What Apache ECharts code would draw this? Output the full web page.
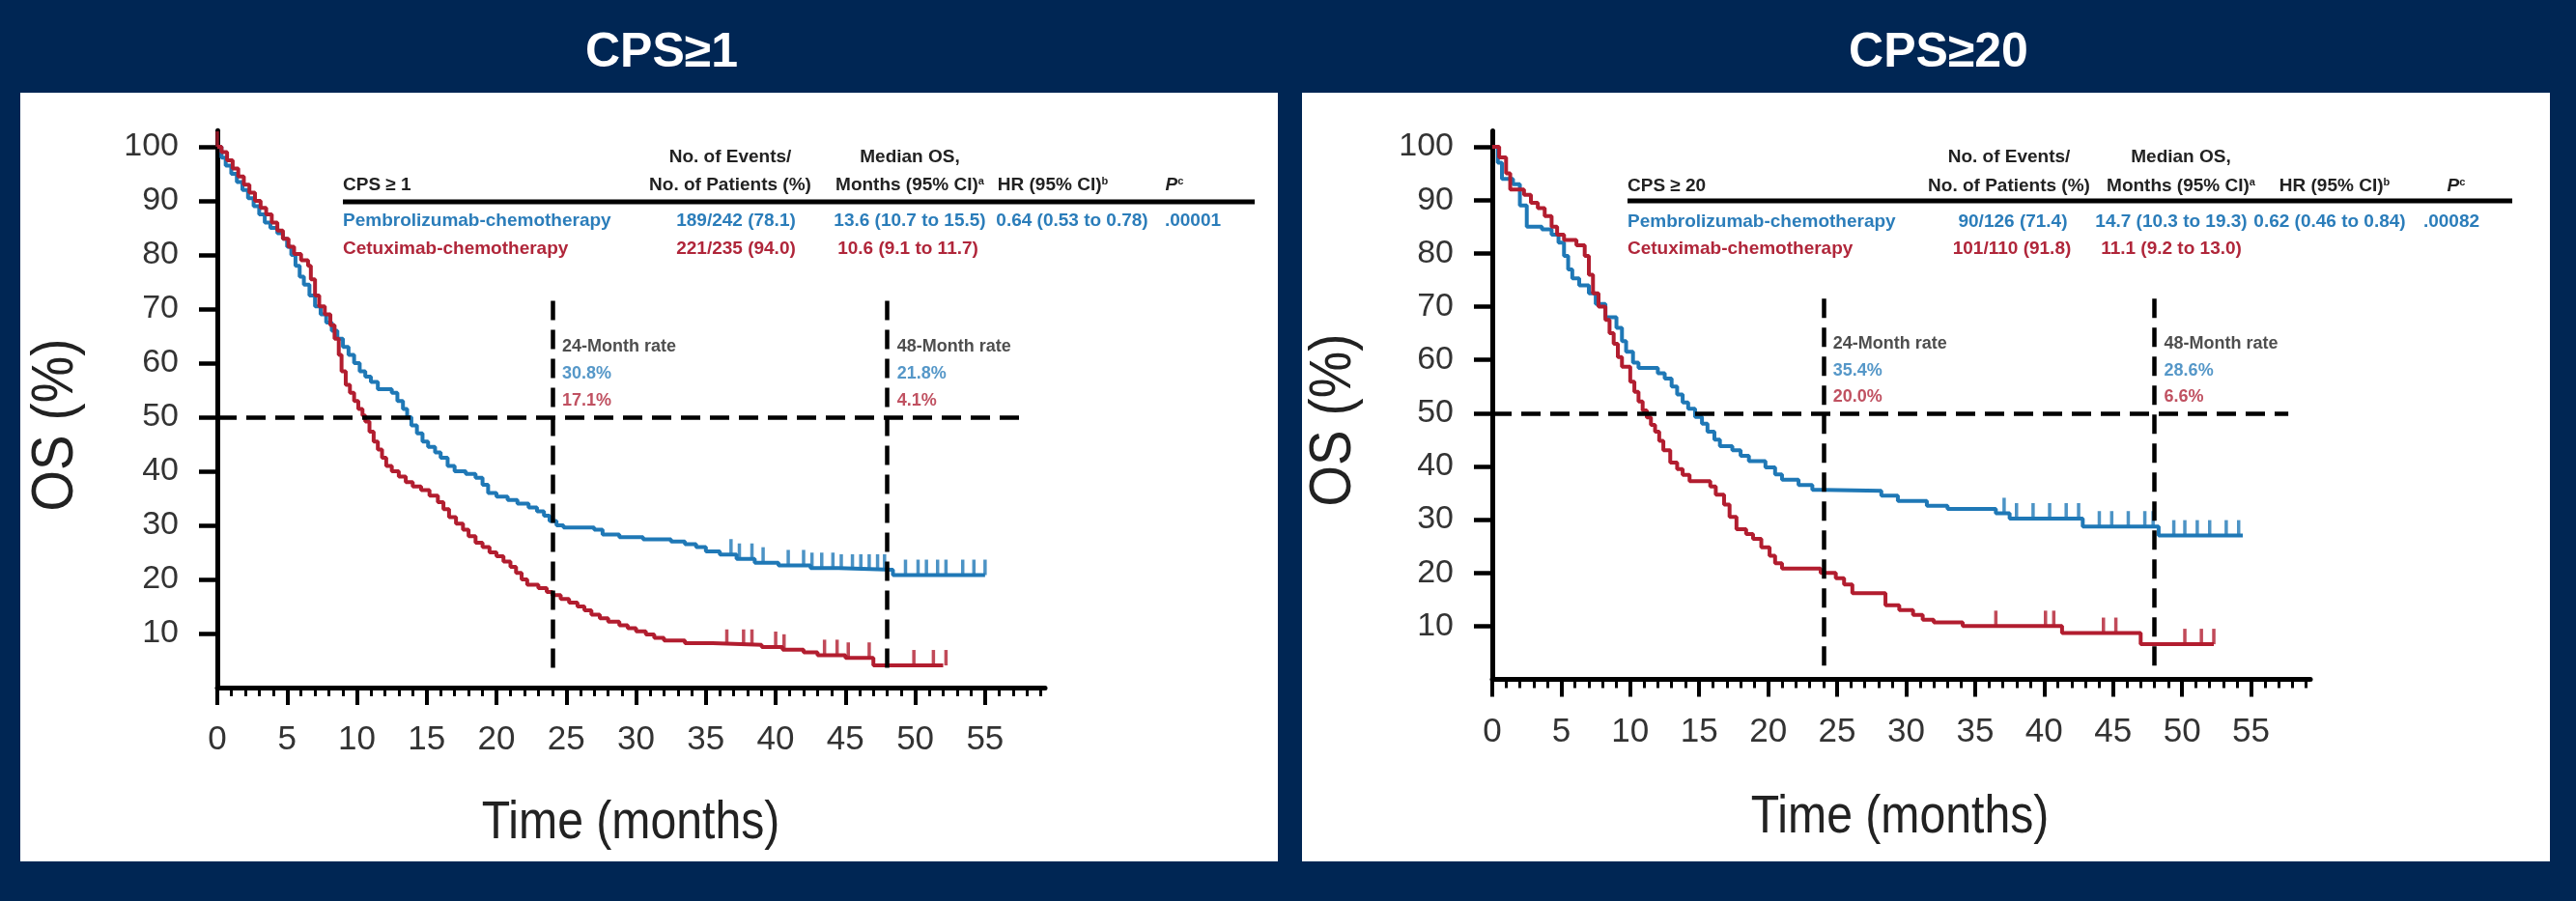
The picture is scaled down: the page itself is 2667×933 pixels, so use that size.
<!DOCTYPE html>
<html><head><meta charset="utf-8">
<script src="https://cdn.jsdelivr.net/npm/echarts@6/dist/echarts.min.js"></script>
<style>html,body{margin:0;padding:0;background:#002654;}#c{width:2667px;height:933px;}</style>
</head><body><div id="c"></div>
<script>
// ---------- DATA ----------
const timeTicks = [0,5,10,15,20,25,30,35,40,45,50,55];
const osTicks = [10,20,30,40,50,60,70,80,90,100];
const landmarkMonths = [24,48];

const pembroCps1 = [[0,100],[0.3,98],[0.6,96.5],[1,95],[1.4,93.5],[1.8,92],[2.2,90.5],[2.6,89],[3,87.5],[3.4,86],[3.8,85],[4.3,84],[4.7,83],[5,81.5],[5.3,80],[5.6,78],[5.9,76],[6.2,74.5],[6.6,72.5],[7,70.5],[7.4,69],[7.8,67.5],[8.2,66],[8.6,64.5],[9,63],[9.4,61.5],[9.8,60],[10.2,58.5],[10.6,57.5],[11,56.5],[11.5,55.2],[12.5,54.5],[12.9,53],[13.3,51.5],[13.6,50],[13.9,48.5],[14.3,47],[14.7,45.5],[15.1,44.5],[15.6,43.5],[16,42.5],[16.5,41],[17,40],[17.8,39.5],[18.5,38.8],[19,37.5],[19.4,36],[20,35.3],[20.8,34.7],[21.5,34],[22.3,33.3],[22.9,32.6],[23.4,31.8],[23.8,30.8],[24.3,30],[24.8,29.6],[27,29.2],[27.6,28.3],[28.8,27.8],[30.5,27.4],[32.5,27],[33.5,26.5],[34.3,26],[35,25.2],[36,24.6],[37.2,23.8],[38.5,23.1],[40.2,22.6],[42.5,22.1],[44.5,21.8],[48.4,20.8],[55,20.8]];
const cetuxCps1 = [[0,100],[0.3,99],[0.7,97.5],[1.1,96],[1.5,94.5],[1.9,93],[2.3,91.5],[2.7,90],[3.1,88.7],[3.5,87.5],[3.9,86],[4.3,84.5],[4.7,83],[5.1,81.5],[5.5,80.2],[6,79],[6.5,78],[6.7,75.5],[7,72.5],[7.3,70.5],[7.7,69],[8.1,67],[8.4,64.5],[8.7,61.5],[8.9,58.5],[9.2,56],[9.5,54.5],[9.8,53],[10.1,51.5],[10.4,50.3],[10.6,49.2],[10.9,47.3],[11.2,45.5],[11.5,44],[11.8,42.5],[12.1,41],[12.5,40],[13,39],[13.5,38],[14,37.2],[14.6,36.5],[15.2,35.5],[15.8,34.3],[16.2,33],[16.6,31.5],[17.1,30.3],[17.6,29.2],[18,28],[18.5,26.8],[19,26],[19.5,25],[20,24.3],[20.5,23.3],[21,22.3],[21.4,21.2],[21.8,20],[22.2,19],[23,18.4],[23.6,17.7],[24,17.1],[24.6,16.4],[25.2,15.7],[25.8,15],[26.3,14.3],[26.8,13.5],[27.4,12.8],[28,12.2],[28.8,11.5],[29.4,11],[30,10.4],[30.7,9.8],[31.3,9.2],[32,8.7],[33.5,8.2],[35.5,7.9],[39,7.5],[40.5,7],[42,6.5],[43,6],[45,5.5],[47,4.1],[52,4.1]];
const pembroCps1Censor = [36.8,37.4,38.3,39.1,40.9,42.0,42.6,43.3,44.1,44.7,45.5,46.1,46.7,47.3,47.8,49.3,50.2,50.8,51.6,52.2,53.4,54.2,55];
const cetuxCps1Censor = [0,36.5,37.7,38.3,40,40.6,43.5,44.4,45.2,46.7,49.9,51.3,52.2];

const pembroCps20 = [[0,100],[0.4,97],[0.7,94],[1.5,93],[2,89],[2.5,85],[3.6,84.5],[4.3,83.5],[4.8,82],[5.2,79.5],[5.5,77],[5.8,75.3],[6.3,74],[7,72.5],[7.5,70.5],[8.2,68],[9,66],[9.4,63.5],[9.7,61.5],[10.2,59.5],[10.6,58.5],[12,57.5],[12.5,56.5],[13,55],[13.4,53.5],[13.8,52],[14.2,50.8],[14.7,49.3],[15.2,48],[15.6,46.5],[16.1,45],[16.5,43.8],[17.4,43],[18,42],[18.6,41],[19.8,39.8],[20.5,38.5],[21,37.5],[22.2,36.5],[23.2,35.6],[24,35.4],[28.2,34.5],[29.4,33.5],[31.5,32.6],[33,32],[36.5,31.2],[37.5,30.2],[42.8,28.7],[48.3,27.0],[54.4,27.0]];
const cetuxCps20 = [[0,100],[0.5,98],[1,95],[1.3,92],[2.3,91],[2.8,89.5],[3.3,88.5],[3.8,87],[4.3,85],[4.7,83.5],[5.2,82.5],[6.1,81.5],[6.7,79.5],[7,76],[7.3,72.5],[7.7,70],[8.2,67.5],[8.5,65],[8.8,63],[9.1,60.5],[9.4,58.7],[10,55.9],[10.3,54],[10.6,52.2],[10.9,50.5],[11.2,49.2],[11.5,47.8],[11.8,46.5],[12.1,44.8],[12.4,43],[12.9,40.7],[13.4,39.5],[13.8,38.4],[14.3,37.2],[15.8,36.2],[16.2,34.7],[16.8,32.8],[17.2,30.5],[17.7,28.2],[18.4,27.3],[18.9,26.4],[19.5,24.8],[20.1,23.2],[20.5,21.8],[21,20.8],[23.8,20],[24.9,19],[25.5,17.8],[26.1,16.2],[28.5,13.9],[29.5,13],[30.5,12.1],[31.2,11.2],[32,10.7],[34.1,10],[41.3,8.7],[47,6.6],[52.3,6.6]];
const pembroCps20Censor = [37.1,38,39.2,40.4,41.6,42.5,44,44.9,46.1,47.3,47.9,49.4,50.2,51.1,52,53.2,54.1];
const cetuxCps20Censor = [36.5,40.1,40.7,44.3,45.2,50.2,51.4,52.3];

const ratesCps1Pembro = [30.8, 21.8];
const ratesCps1Cetux = [17.1, 4.1];
const ratesCps20Pembro = [35.4, 28.6];
const ratesCps20Cetux = [20.0, 6.6];

const armNames = ['Pembrolizumab-chemotherapy', 'Cetuximab-chemotherapy'];
const cps1Pembro = ['189/242 (78.1)', '13.6 (10.7 to 15.5)', '0.64 (0.53 to 0.78)', '.00001'];
const cps1Cetux = ['221/235 (94.0)', '10.6 (9.1 to 11.7)'];
const cps20Pembro = ['90/126 (71.4)', '14.7 (10.3 to 19.3)', '0.62 (0.46 to 0.84)', '.00082'];
const cps20Cetux = ['101/110 (91.8)', '11.1 (9.2 to 13.0)'];

// ---------- STYLE / LAYOUT ----------
const FF = "'Liberation Sans', Arial, sans-serif";
const BLUE = '#1f78b6', RED = '#b21d2f';
const TBLUE = '#2b7dba', TRED = '#b0263a', TDARK = '#222';
const XMAX = 59.3, YMAX = 103;

function stepValue(curve, t){ let v = curve[0][1]; for (const p of curve){ if (p[0] <= t) v = p[1]; else break; } return v; }

const panels = [
  { grid:{left:225, top:135.2, width:857, height:576.8}, rect:[21,96,1302,796], title:'CPS≥1', titleX:685,
    pembro:pembroCps1, cetux:cetuxCps1, pc:pembroCps1Censor, cc:cetuxCps1Censor, rp:ratesCps1Pembro, rc:ratesCps1Cetux,
    osTitle:[58,440], timeTitle:[653,853],
    table:{label:'CPS ≥ 1', lx:355, ruleX2:1299, ruleY:209, h1:163, h2:192, r1:229, r2:258,
      hdr:[756,942,1090,1216], c1:[762,942,1110,1235], c2:[762,940]}, pv:cps1Pembro, cv:cps1Cetux },
  { grid:{left:1545, top:135.5, width:847, height:568}, rect:[1348,96,1292,796], title:'CPS≥20', titleX:2007,
    pembro:pembroCps20, cetux:cetuxCps20, pc:pembroCps20Censor, cc:cetuxCps20Censor, rp:ratesCps20Pembro, rc:ratesCps20Cetux,
    osTitle:[1381,435], timeTitle:[1967,847],
    table:{label:'CPS ≥ 20', lx:1685, ruleX2:2601, ruleY:208, h1:163, h2:193, r1:230, r2:258,
      hdr:[2080,2258,2417,2543], c1:[2084,2248,2412,2538], c2:[2083,2248]}, pv:cps20Pembro, cv:cps20Cetux }
];

const minorTimes = [];
for (let t = 1; t < XMAX; t++) if (t % 5 !== 0) minorTimes.push(t);

const grids = [], xAxes = [], yAxes = [], series = [], graphics = [];

function txt(x, y, text, o){
  o = o || {};
  const st = { text: text, x: 0, y: 0, fill: o.fill || TDARK,
    font: (o.weight || 'bold') + ' ' + (o.size || 19) + 'px ' + FF,
    textAlign: o.align || 'left', align: o.align || 'left',
    textVerticalAlign: 'middle', verticalAlign: 'middle' };
  if (o.rich) st.rich = o.rich;
  const el = { type:'text', x:x, y:y, z:10, style: st };
  if (o.rotation) el.rotation = o.rotation;
  if (o.scaleX) el.scaleX = o.scaleX;
  return el;
}
function supRich(color){
  return {
    m:{fontSize:19, fontWeight:'bold', fontFamily:FF, fill:color, color:color},
    i:{fontSize:19, fontWeight:'bold', fontStyle:'italic', fontFamily:FF, fill:color, color:color},
    s:{fontSize:11, fontWeight:'bold', fontFamily:FF, fill:color, color:color, verticalAlign:'top'}
  };
}

panels.forEach((p, i) => {
  grids.push(p.grid);
  const axisLineStyle = {color:'#000', width:5};
  xAxes.push({ gridIndex:i, type:'value', min:0, max:XMAX, position:'bottom',
    axisLine:{show:true, onZero:false, lineStyle:axisLineStyle},
    axisTick:{show:true, customValues:timeTicks, length:18, lineStyle:{color:'#000', width:4}},
    axisLabel:{show:true, customValues:timeTicks, fontSize:35, fontFamily:FF, color:'#333', margin:37},
    splitLine:{show:false} });
  xAxes.push({ gridIndex:i, type:'value', min:0, max:XMAX, position:'bottom',
    axisLine:{show:false, onZero:false},
    axisTick:{show:true, customValues:minorTimes, length:9, lineStyle:{color:'#000', width:3}},
    axisLabel:{show:false}, splitLine:{show:false} });
  yAxes.push({ gridIndex:i, type:'value', min:0, max:YMAX,
    axisLine:{show:true, onZero:false, lineStyle:axisLineStyle},
    axisTick:{show:true, customValues:osTicks, length:19, lineStyle:{color:'#000', width:4.5}},
    axisLabel:{show:true, customValues:osTicks, fontSize:34, fontFamily:FF, color:'#333', margin:40},
    splitLine:{show:false} });

  const xi = i * 2, yi = i;
  const curve = (data, color, name) => ({ type:'line', name:name, xAxisIndex:xi, yAxisIndex:yi, data:data,
    step:'end', showSymbol:false, symbol:'none', lineStyle:{color:color, width:4}, z:3, silent:true, animation:false });
  const censor = (times, data, color) => ({ type:'scatter', xAxisIndex:xi, yAxisIndex:yi,
    data: times.map(t => [t, stepValue(data, t)]), symbol:'rect', symbolSize:[3.5,16], symbolOffset:[0,-8],
    itemStyle:{color:color}, z:3, silent:true, animation:false });
  series.push(curve(p.pembro, BLUE, armNames[0]));
  series.push(curve(p.cetux, RED, armNames[1]));
  series.push(censor(p.pc, p.pembro, BLUE));
  series.push(censor(p.cc, p.cetux, RED));
  // reference lines: median (50%) and landmark months
  const ml = [[{coord:[0,50]},{coord:[57.7,50]}]];
  landmarkMonths.forEach(m => ml.push([{coord:[m,71.5]},{coord:[m,2]}]));
  series.push({ type:'line', xAxisIndex:xi, yAxisIndex:yi, data:[], z:5, silent:true, animation:false,
    markLine:{ silent:true, animation:false, symbol:['none','none'], label:{show:false},
      lineStyle:{color:'#000', width:4.5, type:[20,10]}, data:ml } });
  // landmark rate labels
  const lab = [];
  landmarkMonths.forEach((m, k) => {
    lab.push({ value:[m+0.7, 63], label:{formatter: m + '-Month rate', color:TDARK} });
    lab.push({ value:[m+0.7, 58], label:{formatter: p.rp[k].toFixed(1) + '%', color:TBLUE} });
    lab.push({ value:[m+0.7, 53], label:{formatter: p.rc[k].toFixed(1) + '%', color:TRED} });
  });
  series.push({ type:'scatter', xAxisIndex:xi, yAxisIndex:yi, data:lab, symbolSize:0, z:6, silent:true, animation:false,
    label:{show:true, position:'right', distance:0, fontSize:18, fontWeight:'bold', fontFamily:FF} });

  // panel background + titles
  graphics.push({ type:'rect', z:-10, shape:{x:p.rect[0], y:p.rect[1], width:p.rect[2], height:p.rect[3]}, style:{fill:'#fff'} });
  graphics.push(txt(p.titleX, 55, p.title, {fill:'#fff', size:50, align:'center'}));
  graphics.push(txt(p.osTitle[0], p.osTitle[1], 'OS (%)', {weight:'normal', size:62, align:'center', rotation:Math.PI/2, scaleX:0.88, fill:'#222'}));
  graphics.push(txt(p.timeTitle[0], p.timeTitle[1], 'Time (months)', {weight:'normal', size:56, align:'center', scaleX:0.86, fill:'#222'}));

  // table
  const T = p.table;
  graphics.push(txt(T.lx, T.h2, T.label));
  graphics.push(txt(T.hdr[0], T.h1, 'No. of Events/', {align:'center'}));
  graphics.push(txt(T.hdr[0], T.h2, 'No. of Patients (%)', {align:'center'}));
  graphics.push(txt(T.hdr[1], T.h1, 'Median OS,', {align:'center'}));
  graphics.push(txt(T.hdr[1], T.h2, '{m|Months (95% CI)}{s|a}', {align:'center', rich:supRich(TDARK)}));
  graphics.push(txt(T.hdr[2], T.h2, '{m|HR (95% CI)}{s|b}', {align:'center', rich:supRich(TDARK)}));
  graphics.push(txt(T.hdr[3], T.h2, '{i|P}{s|c}', {align:'center', rich:supRich(TDARK)}));
  graphics.push({ type:'line', z:10, shape:{x1:T.lx, y1:T.ruleY, x2:T.ruleX2, y2:T.ruleY}, style:{stroke:'#000', lineWidth:5} });
  graphics.push(txt(T.lx, T.r1, armNames[0], {fill:TBLUE}));
  graphics.push(txt(T.lx, T.r2, armNames[1], {fill:TRED}));
  p.pv.forEach((v, k) => graphics.push(txt(T.c1[k], T.r1, v, {fill:TBLUE, align:'center'})));
  p.cv.forEach((v, k) => graphics.push(txt(T.c2[k], T.r2, v, {fill:TRED, align:'center'})));
});

const chart = echarts.init(document.getElementById('c'), null, {renderer:'canvas'});
chart.setOption({
  backgroundColor:'#002654',
  animation:false,
  grid:grids, xAxis:xAxes, yAxis:yAxes, series:series,
  graphic:{elements:graphics}
});
</script></body></html>
